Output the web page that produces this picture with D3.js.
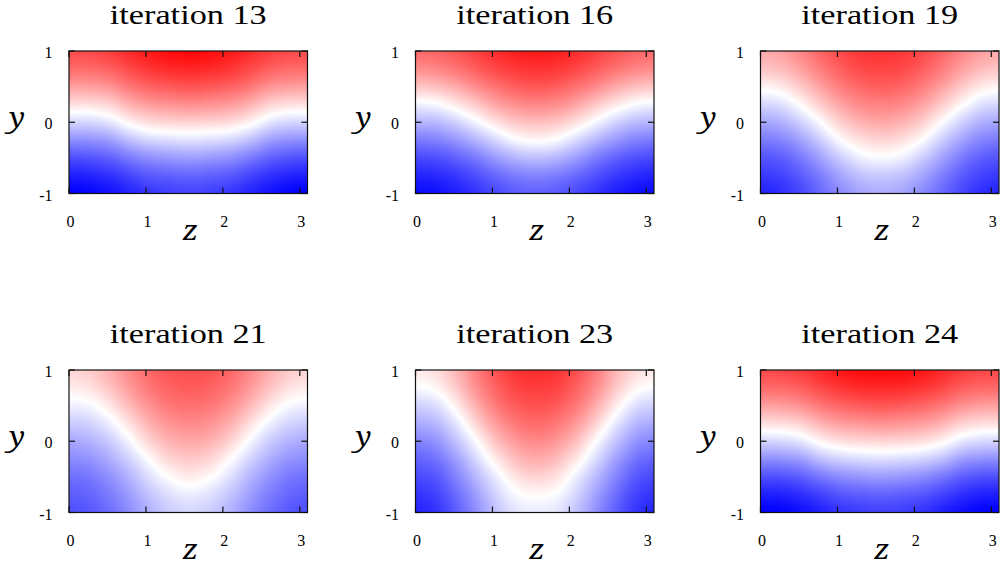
<!DOCTYPE html>
<html>
<head>
<meta charset="utf-8">
<script src="https://cdn.jsdelivr.net/npm/d3@7"></script>
<style>
  html, body { margin: 0; padding: 0; background: #fff; }
  svg { display: block; }
  text { font-family: "Liberation Serif", "Times New Roman", serif; }
  text.axis-name { font-family: "Noto Serif", "Liberation Serif", serif; font-style: italic; }
</style>
</head>
<body>
<svg id="chart" width="1000" height="567"></svg>
<script>
// Panel titles, in reading order
const titles = ["iteration 13", "iteration 16", "iteration 19",
                "iteration 21", "iteration 23", "iteration 24"];

// Grid nodes of the sampled field: z across [0, pi], y from top (1) to bottom (-1)
const zNodes = [0, 0.262, 0.524, 0.785, 1.047, 1.309, 1.571, 1.833, 2.094, 2.356, 2.618, 2.880, 3.142];
const yNodes = [1, 0.75, 0.5, 0.25, 0, -0.25, -0.5, -0.75, -1];

// Field values on the grid (rows = yNodes, columns = zNodes)
const field13 = [
  [ .70, .71, .75, .83, .90, .95, .97, .95, .90, .83, .75, .71, .70],
  [ .58, .58, .62, .71, .79, .83, .85, .83, .79, .71, .62, .58, .58],
  [ .37, .38, .42, .53, .61, .65, .67, .65, .61, .53, .42, .38, .37],
  [ .12, .12, .17, .30, .39, .42, .44, .42, .39, .30, .17, .12, .12],
  [-.16,-.16,-.10, .04, .13, .16, .17, .16, .13, .04,-.10,-.16,-.16],
  [-.44,-.43,-.38,-.25,-.16,-.13,-.11,-.13,-.16,-.25,-.38,-.43,-.44],
  [-.69,-.67,-.62,-.52,-.44,-.40,-.38,-.40,-.44,-.52,-.62,-.67,-.69],
  [-.88,-.86,-.81,-.73,-.65,-.62,-.60,-.62,-.65,-.73,-.81,-.86,-.88],
  [-1.0,-.98,-.93,-.86,-.79,-.75,-.73,-.75,-.79,-.86,-.93,-.98,-1.0]
];
const field16 = [
  [ .58, .60, .66, .74, .82, .88, .90, .88, .82, .74, .66, .60, .58],
  [ .44, .47, .54, .63, .72, .78, .80, .78, .72, .63, .54, .47, .44],
  [ .22, .25, .33, .45, .55, .63, .66, .63, .55, .45, .33, .25, .22],
  [-.05,-.02, .08, .21, .35, .44, .47, .44, .35, .21, .08,-.02,-.05],
  [-.29,-.27,-.18,-.04, .11, .22, .25, .22, .11,-.04,-.18,-.27,-.29],
  [-.52,-.49,-.41,-.29,-.15,-.02, .02,-.02,-.15,-.29,-.41,-.49,-.52],
  [-.71,-.69,-.62,-.52,-.39,-.29,-.25,-.29,-.39,-.52,-.62,-.69,-.71],
  [-.86,-.84,-.78,-.69,-.59,-.51,-.48,-.51,-.59,-.69,-.78,-.84,-.86],
  [-.96,-.94,-.88,-.80,-.71,-.64,-.62,-.64,-.71,-.80,-.88,-.94,-.96]
];
const field19 = [
  [ .33, .37, .47, .60, .71, .78, .80, .78, .71, .60, .47, .37, .33],
  [ .22, .26, .37, .51, .63, .71, .73, .71, .63, .51, .37, .26, .22],
  [ .04, .08, .21, .37, .51, .60, .63, .60, .51, .37, .21, .08, .04],
  [-.16,-.12, .02, .20, .36, .46, .49, .46, .36, .20, .02,-.12,-.16],
  [-.35,-.31,-.18, .00, .19, .30, .34, .30, .19, .00,-.18,-.31,-.35],
  [-.52,-.48,-.36,-.19, .00, .12, .16, .12, .00,-.19,-.36,-.48,-.52],
  [-.67,-.63,-.52,-.36,-.19,-.06,-.02,-.06,-.19,-.36,-.52,-.63,-.67],
  [-.78,-.74,-.64,-.50,-.35,-.24,-.21,-.24,-.35,-.50,-.64,-.74,-.78],
  [-.86,-.82,-.72,-.58,-.45,-.35,-.32,-.35,-.45,-.58,-.72,-.82,-.86]
];
const field21 = [
  [ .16, .20, .31, .46, .59, .67, .69, .67, .59, .46, .31, .20, .16],
  [ .07, .11, .23, .39, .53, .61, .64, .61, .53, .39, .23, .11, .07],
  [-.06,-.03, .09, .27, .43, .53, .56, .53, .43, .27, .09,-.03,-.06],
  [-.20,-.17,-.06, .12, .31, .42, .46, .42, .31, .12,-.06,-.17,-.20],
  [-.34,-.30,-.20,-.03, .17, .30, .34, .30, .17,-.03,-.20,-.30,-.34],
  [-.45,-.42,-.32,-.17, .01, .16, .21, .16, .01,-.17,-.32,-.42,-.45],
  [-.56,-.53,-.43,-.29,-.12, .01, .07, .01,-.12,-.29,-.43,-.53,-.56],
  [-.63,-.60,-.51,-.38,-.23,-.12,-.07,-.12,-.23,-.38,-.51,-.60,-.63],
  [-.69,-.66,-.57,-.44,-.30,-.20,-.16,-.20,-.30,-.44,-.57,-.66,-.69]
];
const field23 = [
  [ .08, .13, .28, .50, .68, .79, .82, .79, .68, .50, .28, .13, .08],
  [-.02, .03, .20, .43, .61, .73, .76, .73, .61, .43, .20, .03,-.02],
  [-.18,-.13, .06, .31, .52, .64, .68, .64, .52, .31, .06,-.13,-.18],
  [-.33,-.28,-.10, .16, .39, .53, .58, .53, .39, .16,-.10,-.28,-.33],
  [-.48,-.42,-.24,-.01, .24, .40, .46, .40, .24,-.01,-.24,-.42,-.48],
  [-.61,-.55,-.38,-.15, .08, .26, .32, .26, .08,-.15,-.38,-.55,-.61],
  [-.71,-.66,-.49,-.28,-.07, .11, .17, .11,-.07,-.28,-.49,-.66,-.71],
  [-.80,-.74,-.58,-.38,-.17,-.02, .02,-.02,-.17,-.38,-.58,-.74,-.80],
  [-.86,-.80,-.64,-.44,-.24,-.10,-.08,-.10,-.24,-.44,-.64,-.80,-.86]
];
const field24 = [
  [ .71, .72, .76, .84, .91, .95, .96, .95, .91, .84, .76, .72, .71],
  [ .58, .59, .63, .72, .79, .83, .84, .83, .79, .72, .63, .59, .58],
  [ .37, .38, .43, .53, .60, .64, .66, .64, .60, .53, .43, .38, .37],
  [ .12, .13, .18, .30, .38, .41, .43, .41, .38, .30, .18, .13, .12],
  [-.16,-.15,-.09, .04, .12, .15, .16, .15, .12, .04,-.09,-.15,-.16],
  [-.44,-.43,-.38,-.25,-.17,-.14,-.12,-.14,-.17,-.25,-.38,-.43,-.44],
  [-.69,-.68,-.63,-.53,-.45,-.41,-.39,-.41,-.45,-.53,-.63,-.68,-.69],
  [-.88,-.87,-.82,-.74,-.66,-.63,-.61,-.63,-.66,-.74,-.82,-.87,-.88],
  [-1.0,-.99,-.94,-.87,-.80,-.76,-.74,-.76,-.80,-.87,-.94,-.99,-1.0]
];
const fields = [field13, field16, field19, field21, field23, field24];

// Axis ticks
const zTicks = [0, 1, 2, 3];
const yTicks = [-1, 0, 1];
const zDomain = [0, 3.1];
const yDomain = [-1, 1];

// Layout of the 3 x 2 panel grid
const lefts = [69, 415.5, 760.5];
const tops = [51, 370];
const W = 238.5, H = 142.5;

const svg = d3.select("#chart");
svg.append("rect").attr("width", 1000).attr("height", 567).attr("fill", "#fff");

// Diverging palette: blue -> white -> red
const color = d3.scaleLinear()
  .domain([-1, 0, 1])
  .range(["#0000ff", "#ffffff", "#ff0000"])
  .clamp(true);

// Catmull-Rom weights for smooth shading between grid nodes
function catmull(p0, p1, p2, p3, t) {
  return 0.5 * (2 * p1 + (-p0 + p2) * t + (2 * p0 - 5 * p1 + 4 * p2 - p3) * t * t
    + (-p0 + 3 * p1 - 3 * p2 + p3) * t * t * t);
}

// Bicubic lookup of the gridded field at (z, y)
function sample(grid, z, y) {
  const nz = zNodes.length, ny = yNodes.length;
  const u = Math.max(0, Math.min(nz - 1, (z - zNodes[0]) / (zNodes[1] - zNodes[0])));
  const v = Math.max(0, Math.min(ny - 1, (yNodes[0] - y) / (yNodes[0] - yNodes[1])));
  const i = Math.min(nz - 2, Math.floor(u)), tz = u - i;
  const j = Math.min(ny - 2, Math.floor(v)), ty = v - j;
  const ci = k => Math.max(0, Math.min(nz - 1, k));
  const cj = k => Math.max(0, Math.min(ny - 1, k));
  const rows = [-1, 0, 1, 2].map(d => {
    const r = grid[cj(j + d)];
    return catmull(r[ci(i - 1)], r[ci(i)], r[ci(i + 1)], r[ci(i + 2)], tz);
  });
  return catmull(rows[0], rows[1], rows[2], rows[3], ty);
}

fields.forEach((grid, p) => {
  const col = p % 3, row = Math.floor(p / 3);
  const x = d3.scaleLinear().domain(zDomain).range([lefts[col], lefts[col] + W]);
  const y = d3.scaleLinear().domain(yDomain).range([tops[row] + H, tops[row]]);
  const g = svg.append("g");

  // Colour map raster
  const cw = Math.round(W), ch = Math.round(H);
  const canvas = document.createElement("canvas");
  canvas.width = cw; canvas.height = ch;
  const ctx = canvas.getContext("2d");
  const img = ctx.createImageData(cw, ch);
  for (let py = 0; py < ch; py++) {
    const yv = y.invert(tops[row] + (py + 0.5) * H / ch);
    for (let px = 0; px < cw; px++) {
      const zv = x.invert(lefts[col] + (px + 0.5) * W / cw);
      const c = d3.rgb(color(sample(grid, zv, yv)));
      const k = (py * cw + px) * 4;
      img.data[k] = c.r; img.data[k + 1] = c.g; img.data[k + 2] = c.b; img.data[k + 3] = 255;
    }
  }
  ctx.putImageData(img, 0, 0);
  g.append("image")
    .attr("x", x(zDomain[0])).attr("y", y(yDomain[1]))
    .attr("width", x(zDomain[1]) - x(zDomain[0]))
    .attr("height", y(yDomain[0]) - y(yDomain[1]))
    .attr("preserveAspectRatio", "none")
    .attr("href", canvas.toDataURL());

  const x0 = x(zDomain[0]), x1 = x(zDomain[1]);
  const yb = y(yDomain[0]), yt = y(yDomain[1]);

  // Frame
  g.append("rect")
    .attr("x", x0).attr("y", yt).attr("width", x1 - x0).attr("height", yb - yt)
    .attr("fill", "none").attr("stroke", "#111").attr("stroke-width", 1.2);

  // Inward ticks on all four sides
  const tl = 6;
  zTicks.forEach(t => {
    g.append("line").attr("x1", x(t)).attr("x2", x(t)).attr("y1", yb).attr("y2", yb - tl)
      .attr("stroke", "#111").attr("stroke-width", 1.2);
    g.append("line").attr("x1", x(t)).attr("x2", x(t)).attr("y1", yt).attr("y2", yt + tl)
      .attr("stroke", "#111").attr("stroke-width", 1.2);
    g.append("text")
      .attr("x", x(t) + 1.5).attr("y", yb + 33)
      .attr("text-anchor", "middle")
      .attr("font-size", 16)
      .text(t);
  });
  yTicks.forEach(t => {
    g.append("line").attr("x1", x0).attr("x2", x0 + tl).attr("y1", y(t)).attr("y2", y(t))
      .attr("stroke", "#111").attr("stroke-width", 1.2);
    g.append("line").attr("x1", x1).attr("x2", x1 - tl).attr("y1", y(t)).attr("y2", y(t))
      .attr("stroke", "#111").attr("stroke-width", 1.2);
    g.append("text")
      .attr("x", x0 - 16.5).attr("y", y(t) + 7)
      .attr("text-anchor", "end")
      .attr("font-size", 16)
      .text(t);
  });

  // Axis names
  g.append("text").attr("class", "axis-name")
    .attr("transform", `translate(${(x0 + x1) / 2 + 2},${yb + 46}) scale(1.1,1)`)
    .attr("text-anchor", "middle")
    .attr("font-size", 28)
    .text("z");
  g.append("text").attr("class", "axis-name")
    .attr("transform", `translate(${x0 - 52},${y(0) + 5}) scale(1.1,1)`)
    .attr("text-anchor", "middle")
    .attr("font-size", 27)
    .text("y");

  // Title
  g.append("text")
    .attr("x", (x0 + x1) / 2).attr("y", yt - 27)
    .attr("text-anchor", "middle")
    .attr("font-size", 27)
    .attr("textLength", 157).attr("lengthAdjust", "spacingAndGlyphs")
    .text(titles[p]);
});
</script>
</body>
</html>
